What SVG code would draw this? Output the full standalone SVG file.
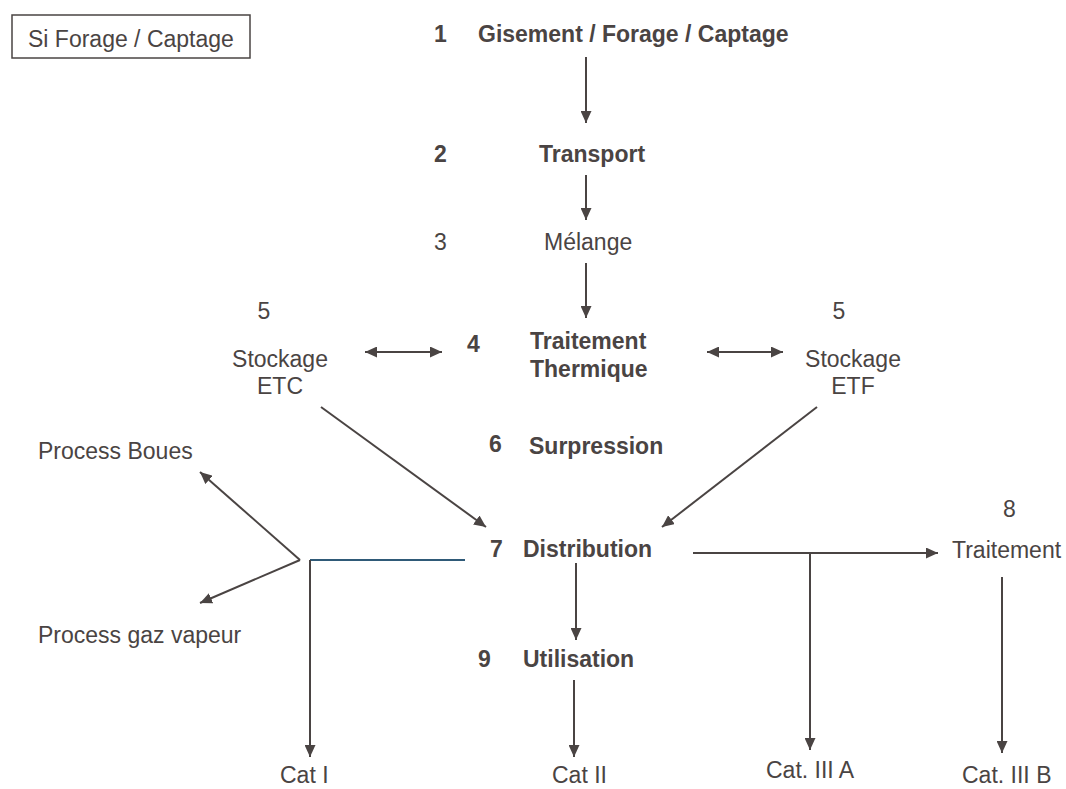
<svg xmlns="http://www.w3.org/2000/svg" width="1066" height="789" viewBox="0 0 1066 789">
  <style>
    text { font-family: "Liberation Sans", Arial, sans-serif; font-size: 23px; fill: #4a4443; }
    .b { font-weight: bold; }
    .c { text-anchor: middle; }
    .ln { stroke: #4a4443; stroke-width: 2; fill: none; }
    .arr { marker-end: url(#head); }
    .dbl { marker-start: url(#head); marker-end: url(#head); }
    .blue { stroke: #2f5a78; stroke-width: 2; fill: none; }
  </style>
  <defs>
    <marker id="head" markerUnits="userSpaceOnUse" markerWidth="13" markerHeight="11" refX="12" refY="5.5" orient="auto-start-reverse">
      <path d="M0,0 L12,5.5 L0,11 z" fill="#4a4443"/>
    </marker>
  </defs>
  <rect width="1066" height="789" fill="#ffffff"/>

  <g id="legend">
    <rect x="12" y="15" width="238" height="43" fill="none" stroke="#4a4443" stroke-width="1.5"/>
    <text x="28" y="47">Si Forage / Captage</text>
  </g>

  <g id="n1">
    <text class="b" x="434" y="42">1</text>
    <text class="b" x="478" y="42">Gisement / Forage / Captage</text>
  </g>
  <g id="n2">
    <text class="b" x="434" y="162">2</text>
    <text class="b" x="539" y="162">Transport</text>
  </g>
  <g id="n3">
    <text x="434" y="250">3</text>
    <text x="544" y="250">Mélange</text>
  </g>
  <g id="n4">
    <text class="b" x="467" y="352">4</text>
    <text class="b" x="530" y="349">Traitement</text>
    <text class="b" x="530" y="377">Thermique</text>
  </g>
  <g id="n5-etc">
    <text class="c" x="264" y="319">5</text>
    <text class="c" x="280" y="367">Stockage</text>
    <text class="c" x="280" y="394">ETC</text>
  </g>
  <g id="n5-etf">
    <text class="c" x="839" y="319">5</text>
    <text class="c" x="853" y="367">Stockage</text>
    <text class="c" x="853" y="394">ETF</text>
  </g>
  <g id="n6">
    <text class="b" x="489" y="452">6</text>
    <text class="b" x="529" y="454">Surpression</text>
  </g>
  <g id="n7">
    <text class="b" x="490" y="557">7</text>
    <text class="b" x="523" y="557">Distribution</text>
  </g>
  <g id="n8">
    <text x="1003" y="517">8</text>
    <text x="952" y="558">Traitement</text>
  </g>
  <g id="n9">
    <text class="b" x="478" y="667">9</text>
    <text class="b" x="523" y="667">Utilisation</text>
  </g>
  <g id="process-boues">
    <text x="38" y="459">Process Boues</text>
  </g>
  <g id="process-gaz">
    <text x="38" y="643">Process gaz vapeur</text>
  </g>
  <g id="cat1">
    <text x="280" y="783">Cat I</text>
  </g>
  <g id="cat2">
    <text x="552" y="783">Cat II</text>
  </g>
  <g id="cat3a">
    <text x="766" y="778">Cat. III A</text>
  </g>
  <g id="cat3b">
    <text x="962" y="783">Cat. III B</text>
  </g>

  <g id="connectors">
    <line class="ln arr" x1="586" y1="57" x2="586" y2="123"/>
    <line class="ln arr" x1="586" y1="175" x2="586" y2="220"/>
    <line class="ln arr" x1="586" y1="263" x2="586" y2="318"/>
    <line class="ln dbl" x1="365" y1="352" x2="442" y2="352"/>
    <line class="ln dbl" x1="707" y1="352" x2="783" y2="352"/>
    <line class="ln arr" x1="321" y1="407" x2="486" y2="527"/>
    <line class="ln arr" x1="817" y1="407" x2="662" y2="527"/>
    <line class="ln arr" x1="576" y1="563" x2="576" y2="640"/>
    <line class="ln arr" x1="574" y1="680" x2="574" y2="757"/>
    <!-- left branch towards the process outlets and Cat I -->
    <line class="blue" x1="310" y1="560" x2="465" y2="560"/>
    <line class="ln arr" x1="310" y1="560" x2="310" y2="757"/>
    <line class="ln arr" x1="300" y1="560" x2="200" y2="472"/>
    <line class="ln arr" x1="300" y1="560" x2="200" y2="603"/>
    <!-- right branch towards treatment and Cat. III A -->
    <line class="ln arr" x1="693" y1="553" x2="938" y2="553"/>
    <line class="ln arr" x1="810" y1="553" x2="810" y2="750"/>
    <line class="ln arr" x1="1002" y1="577" x2="1002" y2="753"/>
  </g>
</svg>
